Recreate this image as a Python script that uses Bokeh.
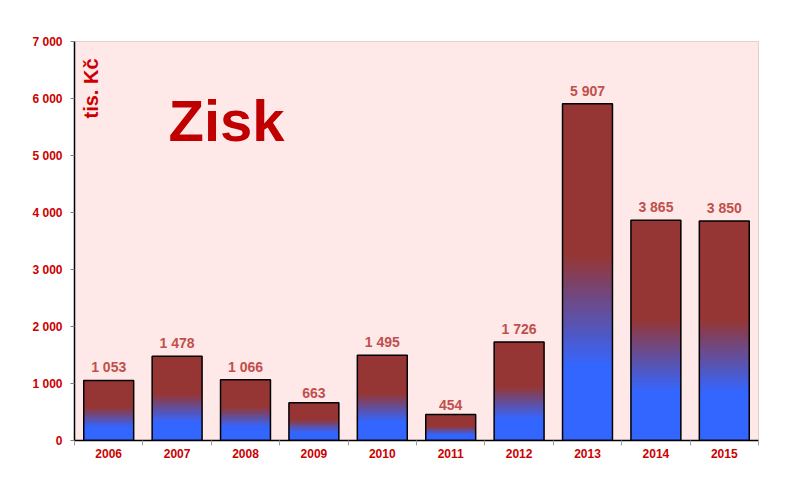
from bokeh.plotting import figure
from bokeh.models import Range1d, FixedTicker, LinearAxis, Label, ColumnDataSource
from bokeh.core.properties import value
from bokeh.embed import file_html
from bokeh.resources import INLINE

years = ["2006", "2007", "2008", "2009", "2010", "2011", "2012", "2013", "2014", "2015"]
profit = [1053, 1478, 1066, 663, 1495, 454, 1726, 5907, 3865, 3850]
y_ticks = [0, 1000, 2000, 3000, 4000, 5000, 6000, 7000]

FONT = "Liberation Sans"
BLUE = (51, 102, 255)
RED = (150, 54, 52)

p = figure(width=792, height=488, output_backend="svg", toolbar_location=None,
           x_range=Range1d(0, len(years)), y_range=Range1d(0, 7000),
           x_axis_type=None, y_axis_type=None,
           min_border_left=74, min_border_right=34, min_border_top=41, min_border_bottom=48)
p.frame_width = 684
p.frame_height = 399
p.background_fill_color = "#FFE8E8"
p.border_fill_color = "white"
p.outline_line_color = "#E0D0D0"
p.xgrid.visible = False
p.ygrid.visible = False

# y axis
yax = LinearAxis(ticker=FixedTicker(ticks=y_ticks))
yax.major_label_overrides = {t: f"{t:,}".replace(",", " ") for t in y_ticks}
yax.axis_line_color = "black"
yax.axis_line_width = 1.5
yax.major_tick_line_color = "#808080"
yax.major_tick_out = 4
yax.major_tick_in = 0
yax.minor_tick_line_color = None
yax.major_label_standoff = 8
yax.major_label_text_font = FONT
yax.major_label_text_font_style = "bold"
yax.major_label_text_font_size = "12px"
yax.major_label_text_color = "#CC0000"
p.add_layout(yax, "left")

# x axis with boundary ticks
xax = LinearAxis(ticker=FixedTicker(ticks=list(range(len(years) + 1))))
xax.major_label_overrides = {i: "" for i in range(len(years) + 1)}
xax.major_label_text_font_size = "1px"
xax.major_label_standoff = 0
xax.axis_line_color = "black"
xax.axis_line_width = 1.5
xax.major_tick_line_color = "#A0A0A0"
xax.major_tick_out = 5
xax.major_tick_in = 0
xax.minor_tick_line_color = None
p.add_layout(xax, "below")

# x labels axis
centers = [i + 0.5 for i in range(len(years))]
xlab = LinearAxis(ticker=FixedTicker(ticks=centers))
xlab.major_label_overrides = {c: y for c, y in zip(centers, years)}
xlab.axis_line_color = None
xlab.major_tick_line_color = None
xlab.minor_tick_line_color = None
xlab.major_label_standoff = -3
xlab.major_label_text_font = FONT
xlab.major_label_text_font_style = "bold"
xlab.major_label_text_font_size = "12px"
xlab.major_label_text_color = "#CC0000"
p.add_layout(xlab, "below")

# gradient bars built from overlapping slices
N = 60
xs, bots, tops, cols = [], [], [], []
for i, v in enumerate(profit):
    for k in range(N):
        f = (k + 0.5) / N
        t = min(max((f - 0.22) / (0.55 - 0.22), 0.0), 1.0)
        c = tuple(int(round(BLUE[j] + (RED[j] - BLUE[j]) * t)) for j in range(3))
        xs.append(i + 0.5)
        bots.append(v * k / N)
        tops.append(min(v, v * (k + 3) / N))
        cols.append("#%02x%02x%02x" % c)
p.vbar(x=xs, bottom=bots, top=tops, width=0.73, fill_color=cols, line_color=None)

src = ColumnDataSource(dict(x=centers, top=profit,
                            lab=[f"{v:,}".replace(",", " ") for v in profit]))
p.vbar(x="x", top="top", bottom=0, width=0.73, source=src,
       fill_color=None, line_color="black", line_width=1.5)

p.text(x="x", y="top", text="lab", source=src, y_offset=-5,
       text_align="center", text_baseline="bottom",
       text_font=value(FONT), text_font_style="bold", text_font_size="14px",
       text_color="#C0504D")

p.add_layout(Label(x=94, y=320, x_units="screen", y_units="screen", text="Zisk",
                   text_font=FONT, text_font_style="bold", text_font_size="58px",
                   text_color="#C00000", text_baseline="middle", text_align="left"))
p.add_layout(Label(x=16, y=352, x_units="screen", y_units="screen", text="tis. Kč",
                   angle=90, angle_units="deg",
                   text_font=FONT, text_font_style="bold", text_font_size="20px",
                   text_color="#CC0000", text_baseline="middle", text_align="center"))

open("out.html", "w").write(file_html(p, INLINE))
